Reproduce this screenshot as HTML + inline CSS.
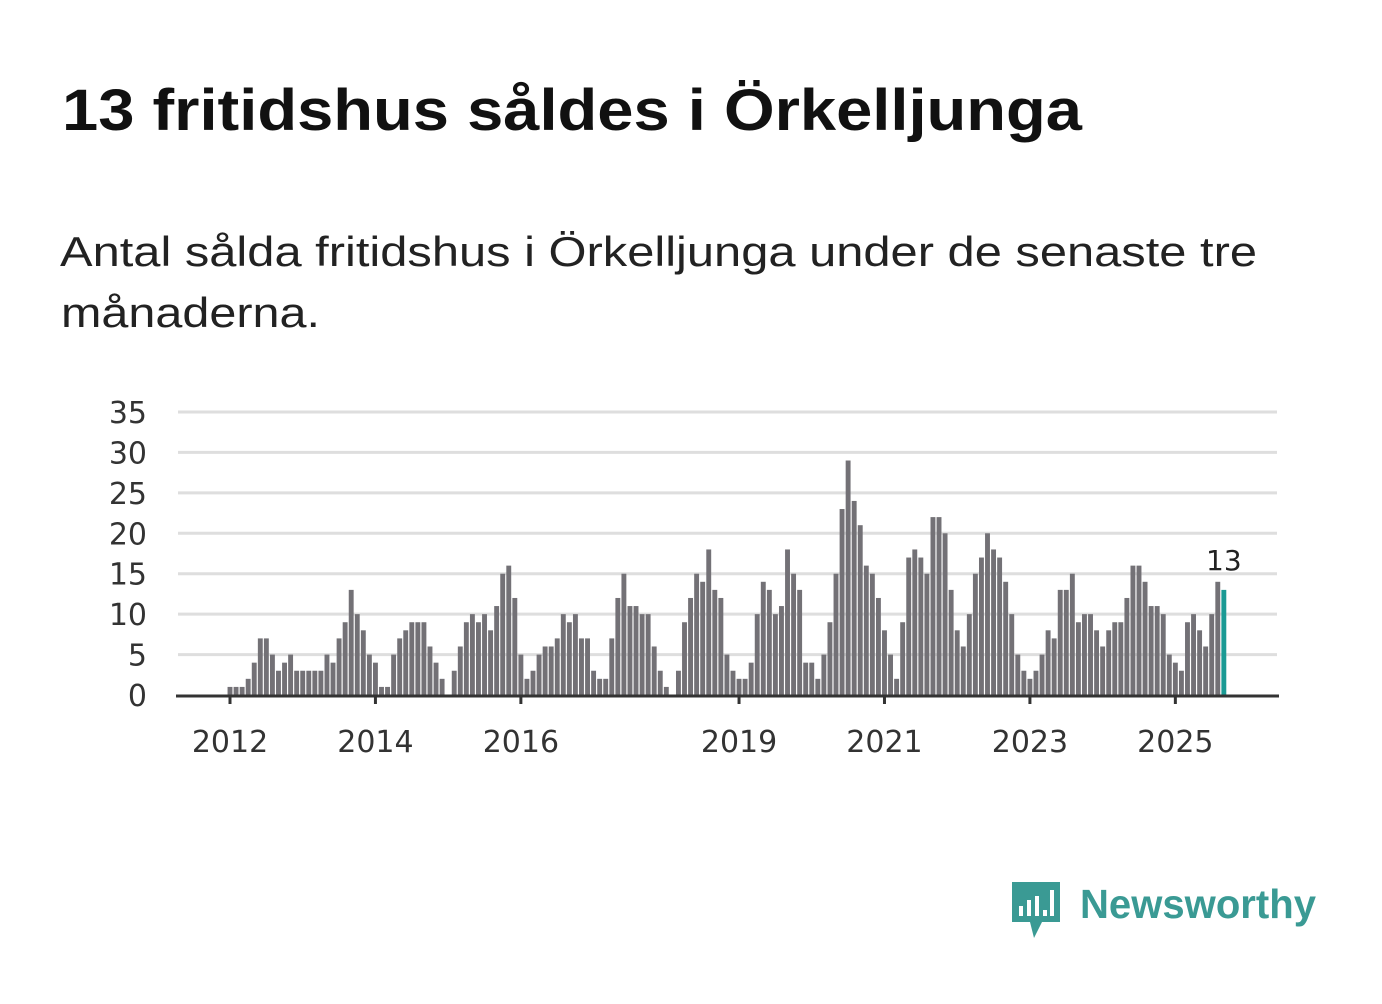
<!DOCTYPE html>
<html><head><meta charset="utf-8"><style>
html,body{margin:0;padding:0;background:#fff;}
body{width:1382px;height:999px;overflow:hidden;font-family:"Liberation Sans",sans-serif;}
</style></head><body>
<svg width="1382" height="999" viewBox="0 0 1382 999" xmlns="http://www.w3.org/2000/svg">
<text x="62" y="130" font-size="58" font-weight="bold" fill="#111" font-family="Liberation Sans, sans-serif" textLength="1020" lengthAdjust="spacingAndGlyphs">13 fritidshus såldes i Örkelljunga</text>
<text x="60" y="266" font-size="42" fill="#222" font-family="Liberation Sans, sans-serif" textLength="1197" lengthAdjust="spacingAndGlyphs">Antal sålda fritidshus i Örkelljunga under de senaste tre</text>
<text x="61" y="327" font-size="42" fill="#222" font-family="Liberation Sans, sans-serif" textLength="259" lengthAdjust="spacingAndGlyphs">månaderna.</text>
<g id="grid"></g>
<g id="bars"></g>
<g id="xaxis"></g>
<g>
<path d="M1012 882 h48 v40 h-18 l-8 16 l-4 -16 h-18 z" fill="#3a9a94"/>
<rect x="1019" y="906" width="4" height="10" fill="#fff"/>
<rect x="1027" y="900" width="4" height="16" fill="#fff"/>
<rect x="1035" y="896" width="4" height="20" fill="#fff"/>
<rect x="1043" y="910" width="4" height="6" fill="#fff"/>
<rect x="1050" y="890" width="4" height="26" fill="#fff"/>
<text x="1080" y="918" font-size="41" font-weight="bold" fill="#3a9a94" font-family="Liberation Sans, sans-serif" textLength="236" lengthAdjust="spacingAndGlyphs">Newsworthy</text>
</g>
</svg>
<script>
const values = [1,1,1,2,4,7,7,5,3,4,5,3,
3,3,3,3,5,4,7,9,13,10,8,5,
4,1,1,5,7,8,9,9,9,6,4,2,
0,3,6,9,10,9,10,8,11,15,16,12,
5,2,3,5,6,6,7,10,9,10,7,7,
3,2,2,7,12,15,11,11,10,10,6,3,
1,0,3,9,12,15,14,18,13,12,5,3,
2,2,4,10,14,13,10,11,18,15,13,4,
4,2,5,9,15,23,29,24,21,16,15,12,
8,5,2,9,17,18,17,15,22,22,20,13,
8,6,10,15,17,20,18,17,14,10,5,3,
2,3,5,8,7,13,13,15,9,10,10,8,
6,8,9,9,12,16,16,14,11,11,10,5,
4,3,9,10,8,6,10,14,13];
const yTicks = [0,5,10,15,20,25,30,35];
const xTickLabels = ["2012","2014","2016","2019","2021","2023","2025"];
const xTickIndex = [0,24,48,84,108,132,156];

const NS="http://www.w3.org/2000/svg";
const FONT="DejaVu Sans, sans-serif";
const y0=695, yPer=8.086, x0=230, step=6.06, bw=4.9;
function yS(v){return y0 - v*yPer;}
function xS(i){return x0 + i*step;}
function mk(tag,attrs){const e=document.createElementNS(NS,tag);for(const k in attrs)e.setAttribute(k,attrs[k]);return e;}
const grid=document.getElementById('grid');
yTicks.forEach(t=>{
  if(t>0){const l=mk('line',{x1:178,x2:1277,y1:yS(t),y2:yS(t),stroke:'#dedede','stroke-width':3});
  
  
  grid.appendChild(l);}
  const tx=mk('text',{x:147,y:yS(t)+11,'text-anchor':'end','font-size':30,fill:'#333','font-family':FONT});
  tx.textContent=t;
  
  
  grid.appendChild(tx);
});
const bars=document.getElementById('bars');
values.forEach((v,i)=>{
  const last=i===values.length-1;
  const r=mk('rect',{x:xS(i)-bw/2,y:yS(v),width:bw,height:v*yPer,fill:last?'#1a9a94':'#737176'});
  
  
  bars.appendChild(r);
  if(last){
    const lb=mk('text',{x:xS(i),y:yS(v)-20,'text-anchor':'middle','font-size':28,fill:'#222','font-family':FONT});
    lb.textContent=v;
    
    
    bars.appendChild(lb);
  }
});
const xa=document.getElementById('xaxis');
const base=mk('line',{x1:176,x2:1279,y1:y0+1,y2:y0+1,stroke:'#333','stroke-width':3});


xa.appendChild(base);
xTickLabels.forEach((lab,k)=>{
  const x=xS(xTickIndex[k]);
  const tk=mk('line',{x1:x,x2:x,y1:y0,y2:y0+9,stroke:'#333','stroke-width':3});
  
  
  xa.appendChild(tk);
  const t=mk('text',{x:x,y:y0+57,'text-anchor':'middle','font-size':30,fill:'#333','font-family':FONT});
  t.textContent=lab;
  
  
  xa.appendChild(t);
});
</script>
</body></html>
